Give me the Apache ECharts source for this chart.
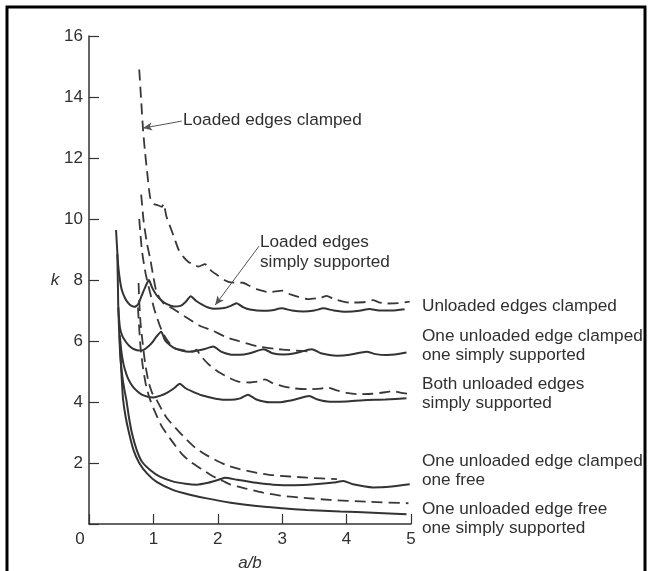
<!DOCTYPE html>
<html><head><meta charset="utf-8">
<script src="https://cdn.jsdelivr.net/npm/echarts/dist/echarts.min.js"></script>
<style>html,body{margin:0;padding:0;background:#fff}#c{width:648px;height:571px}</style>
</head><body><div id="c"></div>
<script>
// ---- axis ticks ----
const xTicks = [0, 1, 2, 3, 4, 5];
const yTicks = [0, 2, 4, 6, 8, 10, 12, 14, 16];

// ---- loaded edges simply supported (solid) ----
const ssUnloadedClamped = [[0.42,9.64],[0.44,8.9],[0.455,8.44],[0.48,8.0],[0.51,7.67],[0.56,7.4],[0.61,7.24],[0.66,7.15],[0.71,7.12],[0.76,7.2],[0.82,7.5],[0.88,7.8],[0.93,8.0],[0.98,7.75],[1.05,7.5],[1.13,7.32],[1.22,7.2],[1.32,7.13],[1.42,7.15],[1.5,7.28],[1.58,7.47],[1.66,7.32],[1.75,7.2],[1.85,7.1],[1.95,7.06],[2.1,7.08],[2.2,7.15],[2.29,7.24],[2.4,7.1],[2.5,7.03],[2.7,6.99],[2.85,7.01],[2.99,7.07],[3.15,7.0],[3.33,6.97],[3.5,7.0],[3.64,7.07],[3.8,7.0],[4.0,6.96],[4.2,6.99],[4.36,7.05],[4.5,7.0],[4.7,7.0],[4.9,7.04]];
const ssClampedSS = [[0.44,8.85],[0.45,7.7],[0.455,7.12],[0.48,6.45],[0.52,6.15],[0.58,5.95],[0.64,5.81],[0.71,5.72],[0.78,5.69],[0.84,5.7],[0.92,5.82],[0.98,5.95],[1.05,6.15],[1.12,6.3],[1.18,6.03],[1.25,5.88],[1.34,5.75],[1.45,5.68],[1.55,5.65],[1.67,5.68],[1.8,5.74],[1.93,5.82],[2.05,5.65],[2.19,5.56],[2.34,5.55],[2.5,5.6],[2.71,5.73],[2.85,5.6],[3.02,5.56],[3.2,5.6],[3.46,5.73],[3.6,5.6],[3.85,5.52],[4.05,5.55],[4.31,5.65],[4.45,5.57],[4.62,5.54],[4.8,5.57],[4.93,5.62]];
const ssBothSS = [[0.48,6.15],[0.5,5.7],[0.53,5.3],[0.56,5.05],[0.6,4.8],[0.65,4.6],[0.69,4.48],[0.75,4.35],[0.82,4.24],[0.9,4.18],[1.0,4.15],[1.1,4.2],[1.21,4.3],[1.32,4.45],[1.41,4.6],[1.5,4.45],[1.6,4.35],[1.75,4.22],[1.9,4.14],[2.05,4.08],[2.19,4.07],[2.35,4.12],[2.47,4.24],[2.6,4.08],[2.81,3.99],[3.0,4.0],[3.2,4.08],[3.42,4.2],[3.55,4.08],[3.74,4.01],[4.0,4.02],[4.26,4.06],[4.6,4.08],[4.93,4.12]];
const ssClampedFree = [[0.455,7.1],[0.47,6.2],[0.49,5.4],[0.52,4.8],[0.55,4.4],[0.58,4.07],[0.62,3.5],[0.67,2.95],[0.74,2.43],[0.82,2.05],[0.95,1.77],[1.1,1.55],[1.31,1.39],[1.5,1.32],[1.67,1.29],[1.85,1.35],[2.0,1.44],[2.11,1.52],[2.3,1.45],[2.6,1.35],[2.86,1.29],[3.2,1.27],[3.5,1.3],[3.8,1.36],[3.95,1.41],[4.1,1.3],[4.41,1.2],[4.7,1.23],[4.98,1.3]];
const ssFreeSS = [[0.475,6.2],[0.49,5.5],[0.51,4.7],[0.53,4.07],[0.57,3.5],[0.62,3.0],[0.69,2.43],[0.78,2.0],[0.9,1.66],[1.05,1.38],[1.31,1.11],[1.55,0.97],[1.83,0.84],[2.2,0.7],[2.6,0.59],[3.0,0.52],[3.38,0.46],[3.9,0.41],[4.41,0.37],[4.93,0.32]];

// ---- loaded edges clamped (dashed) ----
const clUnloadedClamped = [[0.78,14.9],[0.81,13.9],[0.84,12.9],[0.87,12.2],[0.9,11.6],[0.95,10.7],[1.0,10.5],[1.07,10.45],[1.13,10.4],[1.16,10.5],[1.2,10.1],[1.26,9.75],[1.33,9.35],[1.39,9.0],[1.47,8.75],[1.54,8.6],[1.62,8.5],[1.7,8.44],[1.8,8.52],[1.9,8.3],[2.0,8.15],[2.1,8.0],[2.2,7.92],[2.39,7.91],[2.5,7.8],[2.6,7.7],[2.8,7.6],[3.0,7.65],[3.1,7.55],[3.25,7.45],[3.4,7.37],[3.6,7.42],[3.69,7.48],[3.8,7.38],[4.05,7.26],[4.3,7.28],[4.41,7.34],[4.5,7.27],[4.62,7.23],[4.8,7.24],[4.98,7.29]];
const clClampedSS = [[0.81,10.8],[0.85,9.9],[0.9,9.2],[0.95,8.7],[1.0,8.1],[1.05,7.6],[1.15,7.25],[1.31,7.05],[1.49,6.8],[1.72,6.5],[1.9,6.36],[2.14,6.12],[2.32,6.0],[2.6,5.83],[2.9,5.74],[3.12,5.7],[3.48,5.65]];
const clBothSS = [[0.78,10.0],[0.82,9.0],[0.88,8.2],[0.97,7.4],[1.02,7.0],[1.1,6.5],[1.18,6.14],[1.26,5.9],[1.34,5.76],[1.5,5.68],[1.62,5.65],[1.67,5.72],[1.72,5.55],[1.85,5.25],[2.0,5.0],[2.19,4.78],[2.32,4.67],[2.5,4.64],[2.65,4.68],[2.73,4.74],[2.85,4.62],[3.0,4.52],[3.17,4.45],[3.4,4.42],[3.6,4.44],[3.69,4.48],[3.85,4.38],[4.0,4.3],[4.16,4.26],[4.4,4.27],[4.6,4.32],[4.72,4.36],[4.85,4.3],[5.01,4.26]];
const clClampedFree = [[0.77,7.9],[0.78,7.3],[0.8,6.6],[0.83,6.0],[0.87,5.3],[0.92,4.7],[0.98,4.3],[1.05,4.07],[1.13,3.75],[1.2,3.5],[1.3,3.25],[1.5,2.8],[1.65,2.5],[1.83,2.25],[2.11,1.95],[2.34,1.8],[2.6,1.68],[2.86,1.6],[3.38,1.52],[3.85,1.47]];
const clFreeSS = [[0.76,7.1],[0.78,6.4],[0.8,5.8],[0.84,5.1],[0.89,4.5],[0.95,4.07],[1.02,3.7],[1.13,3.2],[1.26,2.8],[1.44,2.3],[1.57,2.05],[1.75,1.8],[1.91,1.58],[2.09,1.4],[2.19,1.3],[2.42,1.17],[2.7,1.03],[2.97,0.93],[3.38,0.85],[3.74,0.79],[4.3,0.73],[4.96,0.68]];

// ---- annotation texts ----
const rightLabels = [
  ['Unloaded edges clamped'],
  ['One unloaded edge clamped', 'one simply supported'],
  ['Both unloaded edges', 'simply supported'],
  ['One unloaded edge clamped', 'one free'],
  ['One unloaded edge free', 'one simply supported']
];
const rightLabelTops = [297, 327, 375, 452, 500];
const loadedClampedLabel = 'Loaded edges clamped';
const loadedSSLabel = ['Loaded edges', 'simply supported'];
const arrowClamped = [[1.44, 13.21], [0.84, 12.98]];
const arrowSS = [[2.64, 9.11], [1.96, 7.18]];

const FONT = "'Liberation Sans', Arial, sans-serif";
const INK = '#303030';
const chart = echarts.init(document.getElementById('c'));

function solid(name, data) {
  return { name, type: 'line', data, showSymbol: false, smooth: 0.2, silent: true,
    lineStyle: { color: '#333', width: 2 } };
}
function dashed(name, data) {
  return { name, type: 'line', data, showSymbol: false, smooth: 0.2, silent: true,
    lineStyle: { color: '#383838', width: 1.8, type: [11, 6] } };
}

const graphics = [
  { type: 'rect', shape: { x: 7, y: 7, width: 638, height: 600 }, style: { fill: 'none', stroke: '#000', lineWidth: 3 }, silent: true }
];
rightLabels.forEach((lines, i) => {
  graphics.push({ type: 'text', left: 422, top: rightLabelTops[i], silent: true,
    style: { text: lines.join('\n'), font: '17.2px ' + FONT, fill: INK, lineHeight: 19 } });
});
graphics.push({ type: 'text', left: 183, top: 112, silent: true,
  style: { text: loadedClampedLabel, font: '17.2px ' + FONT, fill: INK } });
graphics.push({ type: 'text', left: 260, top: 232, silent: true,
  style: { text: loadedSSLabel.join('\n'), font: '17.2px ' + FONT, fill: INK, lineHeight: 20 } });

const series = [
  solid('ssUnloadedClamped', ssUnloadedClamped),
  solid('ssClampedSS', ssClampedSS),
  solid('ssBothSS', ssBothSS),
  solid('ssClampedFree', ssClampedFree),
  solid('ssFreeSS', ssFreeSS),
  dashed('clUnloadedClamped', clUnloadedClamped),
  dashed('clClampedSS', clClampedSS),
  dashed('clBothSS', clBothSS),
  dashed('clClampedFree', clClampedFree),
  dashed('clFreeSS', clFreeSS),
  { type: 'line', data: [], silent: true,
    markLine: { silent: true, symbol: ['none', 'arrow'], symbolSize: [6, 9], animation: false,
      lineStyle: { color: '#555', width: 1, type: 'solid' }, label: { show: false },
      data: [
        [{ coord: arrowClamped[0] }, { coord: arrowClamped[1] }],
        [{ coord: arrowSS[0] }, { coord: arrowSS[1] }]
      ] } }
];

chart.setOption({
  animation: false,
  backgroundColor: '#fff',
  grid: { left: 89, top: 36, width: 322, height: 488, containLabel: false, outerBoundsMode: 'none' },
  xAxis: {
    type: 'value', min: xTicks[0], max: xTicks[xTicks.length - 1], interval: 1,
    name: 'a/b', nameLocation: 'middle', nameGap: 31,
    nameTextStyle: { fontFamily: FONT, fontStyle: 'italic', fontSize: 17, color: INK },
    axisLine: { lineStyle: { color: '#333', width: 1.5 } },
    axisTick: { inside: true, length: 10, lineStyle: { color: '#333', width: 1.2 } },
    splitLine: { show: false },
    axisLabel: { fontFamily: FONT, fontSize: 17, color: INK, margin: 7,
      formatter: v => v === 0 ? '{z|0}' : String(v),
      rich: { z: { fontFamily: FONT, fontSize: 17, color: INK, padding: [0, 18, 0, 0] } } }
  },
  yAxis: {
    type: 'value', min: yTicks[0], max: yTicks[yTicks.length - 1], interval: 2,
    name: 'k', nameLocation: 'middle', nameGap: 29, nameRotate: 0,
    nameTextStyle: { fontFamily: FONT, fontStyle: 'italic', fontSize: 17, color: INK },
    axisLine: { show: true, lineStyle: { color: '#333', width: 1.5 } },
    axisTick: { show: true, inside: true, length: 10, lineStyle: { color: '#333', width: 1.2 } },
    splitLine: { show: false },
    axisLabel: { fontFamily: FONT, fontSize: 17, color: INK, margin: 6,
      formatter: v => v === 0 ? '' : String(v) }
  },
  series,
  graphic: graphics
});
</script></body></html>
